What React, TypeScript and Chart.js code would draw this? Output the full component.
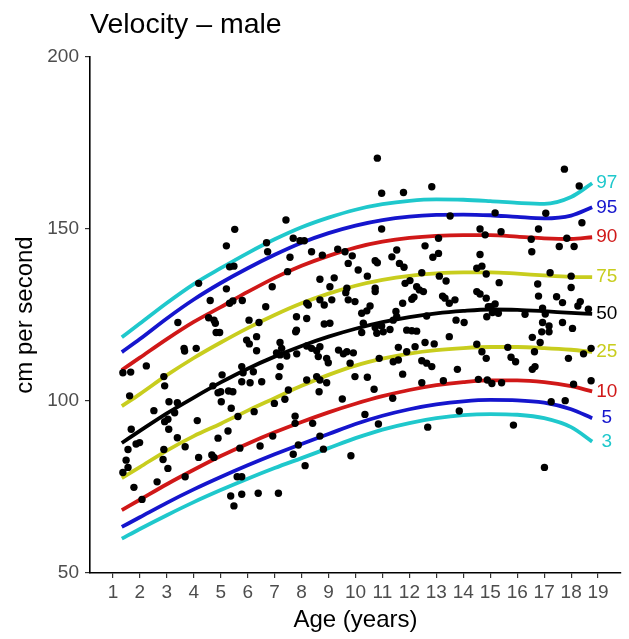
import React, { useEffect, useRef } from "react";
import { Chart, registerables } from "chart.js";

Chart.register(...registerables);

// ---------- text ----------
const chartTitle = "Velocity – male";
const xAxisTitle = "Age (years)";
const yAxisTitle = "cm per second";

// ---------- ticks ----------
const xTickValues = [1, 2, 3, 4, 5, 6, 7, 8, 9, 10, 11, 12, 13, 14, 15, 16, 17, 18, 19];
const yTickValues = [50, 100, 150, 200];

// ---------- observations ----------
const ages = [
  5.52, 5.21, 5.33, 5.49, 4.18, 5.21, 4.61, 5.33, 5.45, 4.55, 4.75, 4.80, 4.83, 4.96, 3.41, 3.64, 3.66, 4.09, 2.24, 1.37,
  1.66, 2.89, 2.92, 5.05, 1.62, 4.71, 4.90, 5.00, 5.29, 5.45, 5.02, 3.08, 3.39, 2.52, 3.29, 3.04, 2.92, 3.07, 4.13, 5.39,
  5.64, 5.27, 1.68, 1.99, 1.86, 1.56, 3.39, 4.90, 2.89, 3.68, 1.49, 1.56, 1.37, 2.86, 3.04, 4.18, 4.67, 4.75, 1.78, 2.64,
  3.68, 2.08, 5.61, 5.37, 5.49,
  5.78, 6.39, 7.14, 5.78, 8.13, 9.83, 8.81, 7.69, 7.88, 8.68, 6.93, 6.46, 5.71, 7.76, 7.76, 8.41, 6.33, 5.96, 6.06, 6.33,
  7.20, 7.26, 7.07, 7.20, 7.45, 7.82, 8.19, 8.37, 8.56, 8.68, 8.93, 8.99, 8.62, 9.37, 9.55, 9.68, 9.92, 9.80, 9.98, 7.20,
  7.16, 6.52, 6.21, 6.09, 5.78, 8.19, 8.56, 8.68, 8.93, 8.65, 7.51, 7.38, 6.99, 9.51, 6.24, 5.78, 5.83,
  7.42, 6.70, 6.74, 7.69, 7.94, 8.10, 8.37, 8.77, 7.57, 9.34, 9.61, 9.88, 7.48, 9.73, 10.10, 6.91, 8.68, 9.21, 9.05, 9.68,
  9.64, 5.80, 6.67, 8.19, 8.25, 8.68, 8.84, 9.12, 9.73, 9.98, 6.05, 6.42, 7.81, 8.19, 8.84, 9.05, 10.23, 7.81, 7.78, 10.23,
  10.81, 10.97, 11.78, 12.83, 13.51, 10.97, 14.62, 14.81, 13.08, 12.58, 11.53, 11.35, 13.08, 12.87, 14.62, 10.81, 10.73, 11.63, 11.80, 10.44,
  12.46, 13.11, 13.36, 14.50, 14.69, 14.85, 11.84, 12.02, 10.73, 10.73, 12.27, 12.37, 12.52, 12.17, 12.09, 13.23, 13.32, 13.69, 13.48, 14.50,
  14.62, 14.85, 11.75, 10.54, 10.42, 11.50, 11.53, 12.64, 13.73, 14.03, 14.93, 10.29, 10.73, 10.97, 11.03, 10.79, 11.28, 11.40, 11.90, 12.09,
  12.27, 13.48, 12.58, 12.92, 14.50, 14.69, 14.85, 12.21, 11.90, 11.59, 10.88, 11.40, 11.59, 12.46, 12.64, 12.83, 13.78, 10.44, 11.75, 12.46,
  13.26, 14.56, 14.89, 10.69, 11.38, 10.35, 13.85, 10.85, 12.68,
  17.75, 18.30, 15.18, 17.06, 18.40, 16.79, 15.40, 16.52, 16.54, 17.84, 17.56, 18.11, 17.22, 18.00, 15.33, 16.76, 18.00, 16.79, 17.46, 17.68,
  18.34, 18.25, 15.18, 15.03, 15.30, 15.08, 14.87, 16.29, 16.94, 17.04, 18.64, 16.94, 17.18, 17.68, 18.05, 16.91, 17.18, 16.56, 16.85, 15.65,
  16.64, 18.74, 18.46, 15.77, 15.94, 17.90, 16.66, 16.56, 15.06, 15.42, 18.09, 18.74, 17.26, 17.78, 15.86, 17.01,
];
const velocities = [
  149.9, 145.1, 139.0, 139.2, 134.2, 132.6, 129.2, 128.4, 129.1, 124.2, 123.5, 122.6, 119.9, 119.9, 122.8, 115.3, 114.5, 115.3, 110.2, 108.2,
  108.4, 107.1, 104.4, 107.6, 101.5, 104.4, 102.4, 102.7, 102.9, 102.7, 99.8, 99.8, 99.5, 97.2, 96.6, 94.7, 94.0, 91.8, 94.3, 97.9,
  95.5, 91.3, 91.8, 87.9, 87.5, 85.9, 89.3, 89.2, 85.9, 86.7, 82.8, 80.7, 79.2, 83.0, 80.4, 83.6, 84.3, 83.6, 74.9, 76.5,
  78.0, 71.4, 78.0, 72.4, 69.5,
  72.9, 73.2, 73.2, 78.0, 81.2, 84.1, 86.0, 84.5, 87.2, 89.8, 89.8, 86.9, 86.3, 95.6, 93.5, 93.5, 118.7, 117.7, 116.6, 114.6,
  117.0, 115.3, 114.0, 113.4, 113.1, 113.7, 116.0, 115.3, 114.6, 115.8, 112.4, 111.1, 112.9, 114.8, 113.7, 114.3, 114.0, 111.0, 107.1, 110.0,
  107.1, 105.6, 108.5, 105.3, 105.6, 106.1, 107.1, 106.1, 105.3, 102.7, 103.2, 100.5, 99.3, 100.6, 96.9, 110.0, 108.2,
  152.6, 146.0, 143.4, 147.3, 146.6, 146.6, 143.4, 142.4, 141.8, 144.1, 143.4, 142.2, 137.6, 140.0, 138.1, 133.2, 135.4, 135.8, 133.2, 132.8,
  131.5, 129.2, 127.4, 128.4, 127.9, 129.4, 127.9, 129.4, 129.4, 128.9, 123.5, 122.8, 124.5, 124.0, 122.4, 122.6, 125.5, 120.6, 120.1, 119.9,
  170.6, 160.4, 160.6, 162.3, 153.8, 150.0, 150.0, 148.3, 147.3, 145.1, 143.9, 141.9, 142.9, 141.8, 142.6, 140.2, 140.8, 140.0, 138.9, 136.3,
  137.3, 136.3, 134.9, 138.6, 139.2, 136.9, 134.2, 135.0, 132.8, 131.8, 133.2, 132.3, 131.8, 130.2, 129.6, 130.5, 129.9, 129.4, 128.4, 131.8,
  131.1, 129.9, 128.4, 127.6, 126.2, 126.0, 124.5, 124.7, 123.5, 122.8, 127.4, 122.6, 121.4, 121.8, 120.1, 119.7, 120.8, 123.5, 120.6, 120.4,
  120.3, 118.7, 117.0, 116.6, 116.5, 114.3, 112.4, 115.8, 114.3, 115.6, 112.4, 111.4, 111.9, 111.7, 111.0, 110.0, 109.2, 106.9, 107.8, 105.3,
  105.9, 106.3, 106.1, 103.4, 100.8, 96.1, 97.1, 93.3, 92.4,
  167.4, 162.5, 154.7, 154.6, 151.8, 150.0, 149.2, 147.0, 143.4, 147.3, 144.9, 144.9, 137.3, 136.3, 134.4, 134.0, 133.0, 130.5, 130.3, 128.6,
  128.9, 127.6, 128.2, 127.4, 125.5, 125.7, 124.5, 125.2, 127.0, 125.3, 126.7, 122.8, 121.8, 122.8, 121.1, 120.1, 120.1, 118.5, 117.0, 115.6,
  114.3, 115.3, 113.7, 112.7, 111.4, 112.4, 110.0, 109.2, 105.1, 105.3, 104.9, 105.9, 99.8, 100.1, 93.0, 80.7,
];

// ---------- centile curves ----------
const curveAges = [1.33, 2, 3, 4, 5, 6, 7, 8, 9, 10, 11, 12, 13, 14, 15, 16, 17, 18, 18.78];
const centileNames = ["97", "95", "90", "75", "50", "25", "10", "5", "3"];
const p97 = [118.5, 122.5, 128.5, 134.0, 138.6, 143.0, 147.0, 150.5, 153.3, 155.6, 157.2, 158.2, 158.6, 158.5, 158.1, 157.6, 157.3, 159.3, 163.3];
const p95 = [114.2, 118.0, 124.0, 129.5, 134.3, 138.6, 142.5, 146.0, 148.8, 151.0, 152.6, 153.6, 154.1, 154.2, 154.0, 153.5, 153.1, 153.9, 156.3];
const p90 = [109.0, 112.6, 118.0, 123.0, 127.3, 131.7, 135.8, 139.3, 142.2, 144.6, 146.3, 147.4, 148.0, 148.2, 148.2, 147.8, 147.3, 147.1, 147.6];
const p75 = [98.5, 102.0, 107.5, 112.5, 117.0, 121.2, 125.0, 128.4, 131.2, 133.5, 135.2, 136.4, 137.1, 137.4, 137.4, 137.0, 136.5, 136.1, 136.0];
const p50 = [87.8, 91.3, 96.4, 101.0, 105.4, 109.4, 112.9, 116.0, 118.7, 121.0, 122.9, 124.4, 125.5, 126.2, 126.6, 126.5, 126.1, 125.6, 125.3];
const p25 = [77.6, 80.8, 85.6, 89.8, 93.4, 97.2, 100.8, 104.4, 107.6, 110.3, 112.3, 113.8, 114.8, 115.4, 115.7, 115.7, 115.4, 114.9, 114.3];
const p10 = [68.3, 71.3, 75.8, 80.0, 84.0, 87.6, 90.9, 93.9, 96.7, 99.2, 101.4, 103.2, 104.6, 105.5, 106.0, 106.0, 105.5, 104.3, 102.8];
const p5 = [63.4, 66.2, 70.4, 74.3, 77.9, 81.3, 84.5, 87.5, 90.4, 93.3, 95.7, 97.6, 99.0, 99.9, 100.3, 100.2, 99.5, 97.6, 95.0];
const p3 = [60.0, 62.8, 66.8, 70.6, 74.1, 77.4, 80.5, 83.4, 86.3, 89.2, 91.7, 93.6, 95.0, 95.9, 96.2, 96.0, 95.0, 92.4, 88.2];
const centileLabelAge = 19.32;

// ---------- styles ----------
const centileColors = ["#1FC8CC", "#1515CD", "#D01818", "#C8CD1E", "#000000", "#C8CD1E", "#D01818", "#1515CD", "#1FC8CC"];
const FONT = "'Liberation Sans', Arial, Helvetica, sans-serif";

export default function App() {
  const canvasRef = useRef<HTMLCanvasElement | null>(null);

  useEffect(() => {
    const canvas = canvasRef.current;
    if (!canvas) return;
    const series = [p97, p95, p90, p75, p50, p25, p10, p5, p3];

    const lineSets = series.map((vals, i) => ({
      type: "line" as const,
      label: centileNames[i],
      data: curveAges.map((a, j) => ({ x: a, y: vals[j] })),
      borderColor: centileColors[i],
      backgroundColor: centileColors[i],
      borderWidth: 3.8,
      pointRadius: 0,
      cubicInterpolationMode: "monotone" as const,
      fill: false,
      order: 1,
    }));

    const labelPlugin = {
      id: "centileLabels",
      afterDatasetsDraw(chart: any) {
        const { ctx, scales } = chart;
        ctx.save();
        ctx.font = `19px ${FONT}`;
        ctx.textAlign = "center";
        ctx.textBaseline = "middle";
        series.forEach((vals, i) => {
          const x = scales.x.getPixelForValue(centileLabelAge);
          const y = scales.y.getPixelForValue(vals[vals.length - 1]);
          ctx.fillStyle = centileColors[i];
          ctx.fillText(centileNames[i], x, y);
        });
        ctx.restore();
      },
    };

    const chart = new Chart(canvas, {
      type: "scatter",
      data: {
        datasets: [
          {
            type: "scatter" as const,
            label: "obs",
            data: ages.map((a, i) => ({ x: a, y: velocities[i] })),
            backgroundColor: "#000000",
            borderWidth: 0,
            pointRadius: 3.7,
            order: 0,
          },
          ...lineSets,
        ] as any,
      },
      options: {
        animation: false,
        responsive: false,
        maintainAspectRatio: false,
        layout: { padding: { left: 0, right: 8, top: 0, bottom: 0 } },
        plugins: {
          legend: { display: false },
          tooltip: { enabled: false },
          title: {
            display: true,
            text: chartTitle,
            align: "start",
            fullSize: false,
            color: "#000000",
            font: { family: FONT, size: 28.5, weight: "normal" as any, lineHeight: 1.2 },
            padding: { top: 8.5, bottom: 14.3 },
          },
        },
        scales: {
          x: {
            type: "linear",
            min: 0.15,
            max: 19.85,
            afterBuildTicks: (s: any) => {
              s.ticks = xTickValues.map((v) => ({ value: v }));
            },
            afterFit: (s: any) => {
              s.height = 66;
            },
            ticks: {
              color: "#4D4D4D",
              font: { family: FONT, size: 19 },
              padding: 3,
              maxRotation: 0,
              autoSkip: false,
            },
            grid: { display: true, drawOnChartArea: false, drawTicks: true, tickLength: 5, color: "#333333", lineWidth: 1.2 },
            border: { display: true, color: "#000000", width: 1.6 },
            title: {
              display: true,
              text: xAxisTitle,
              color: "#000000",
              font: { family: FONT, size: 24 },
              padding: { top: 0, bottom: 4 },
            },
          },
          y: {
            type: "linear",
            min: 50,
            max: 200,
            afterBuildTicks: (s: any) => {
              s.ticks = yTickValues.map((v) => ({ value: v }));
            },
            afterFit: (s: any) => {
              s.width = 90;
            },
            ticks: {
              color: "#4D4D4D",
              font: { family: FONT, size: 19 },
              padding: 6,
            },
            grid: { display: true, drawOnChartArea: false, drawTicks: true, tickLength: 5, color: "#333333", lineWidth: 1.2 },
            border: { display: true, color: "#000000", width: 1.6 },
            title: {
              display: true,
              text: yAxisTitle,
              color: "#000000",
              font: { family: FONT, size: 24 },
              padding: { top: 11, bottom: 0 },
            },
          },
        },
      } as any,
      plugins: [labelPlugin],
    });

    return () => {
      chart.destroy();
    };
  }, []);

  return (
    <div style={{ position: "fixed", left: 0, top: 0, width: 629, height: 639, background: "#ffffff" }}>
      <canvas ref={canvasRef} width={629} height={639} style={{ display: "block", width: 629, height: 639 }} />
    </div>
  );
}
